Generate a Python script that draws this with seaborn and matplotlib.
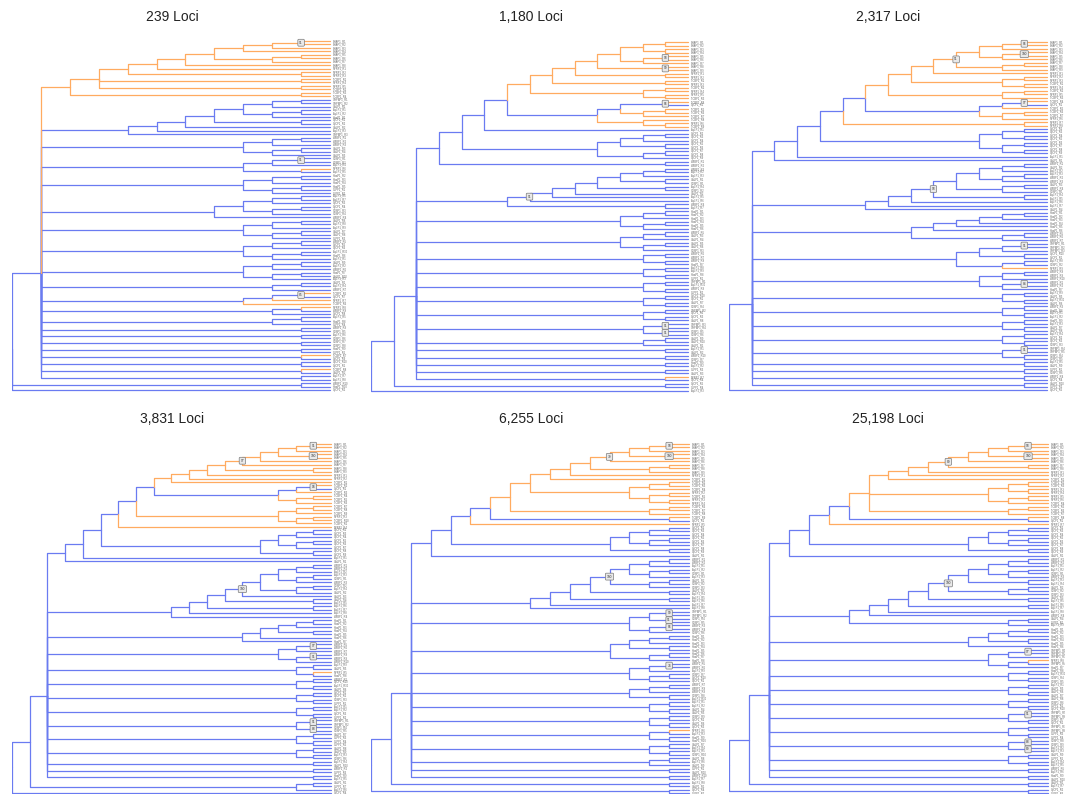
import re
import numpy as np
import pandas as pd
import matplotlib
matplotlib.use('Agg')
import matplotlib.pyplot as plt
import seaborn as sns

# ── Data: six trees in Newick-like notation ──
# leaf = population code, number after ')' = bootstrap value shown in a box
TITLES = ['239 Loci', '1,180 Loci', '2,317 Loci', '3,831 Loci', '6,255 Loci', '25,198 Loci']

POP_NAMES = {'B': 'BHAP1', 'N': 'NPRP1', 'T': 'TCBP1', 'C': 'CyCP1', 'A': 'AyLP1',
             'H': 'HwaP1', 'L': 'CLPP1', 'W': 'WBBP1', 'U': 'UALP1', 'S': 'SUSP1',
             'G': 'GHPBP1'}
ORANGE_POPS = ['B', 'N', 'T']

TREE_239 = (
    "(("
    "(((((((((B,B)91,B),B),((B,B),B)),B),N),(N,N)),(T,N),(N,T)),(T,T)),"
    "(((((((G,G),U),((A,A),H)),(C,C)),U),A),G),"
    "(((W,W),W),((U,U),U)),"
    "(((S,S)91,A),(N,A)),"
    "(((H,H),H),((H,L),L)),"
    "((((A,A),C),((C,S),S)),W),"
    "(((U,A),A),((U,U),L)),"
    "(((W,C),C),((A,H),A)),"
    "(((U,A),W),((H,U),A)),"
    "((U,A),W),"
    "(((T,C)85,N),T),"
    "((N,W),C),"
    "((A,H),L),"
    "(W,S),(A,S),(S,S),(H,L),(T,C),(C,C),(T,U),(A,A)"
    "),(W,H),C)"
)

TREE_1180 = (
    "((("
    "(((("
    "(((((((B,B),(B,B)),((B,B)98,B)),(B,B)99),(N,N)),(T,N)),((T,N),(N,T))),"
    "(((T,C)96,((T,T),T)),(T,(N,T)))"
    "),A),"
    "((((C,C),C),(C,C)),((C,C),C))"
    "),(W,W)),"
    "((((((((W,A),A),(U,S)),(A,S)),U),A),A)91,(W,A)),"
    "(((H,H),H),((H,H),H)),"
    "(((W,U),U),((U,U),S)),"
    "((W,W),(W,H)),"
    "((A,A),(H,L)),"
    "((G,A),(W,L)),"
    "((C,C),(U,S)),"
    "((G,C),(C,U)),"
    "((G,G)91,(S,S)91),"
    "((U,U),U),"
    "(A,U),(W,S),(H,A),(L,U),(N,C)"
    "),(C,L)),A)"
)

TREE_2317 = (
    "(("
    "((((("
    "(((((((B,B)96,B),((B,B)100,B)),((B,B),B))91,N),((N,N),(T,N))),((T,N),T)),"
    "(((T,C)97,T),((T,T),N))"
    "),(N,N)),"
    "(((C,C),(C,C)),((C,C),(C,C)))"
    "),A),U),"
    "((((((((W,U),A),((A,W),W)),((U,W),S)),(A,A))93,A),A),U),"
    "((((((H,H),H),H),H),H),((W,W),W)),"
    "((((G,G)91,G),(C,C)),((A,S),N)),"
    "(((W,W),W),((W,W)84,H)),"
    "((A,U),(A,U)),"
    "((W,H),(A,A)),"
    "((H,A),(U,U)),"
    "((A,C),(C,S)),"
    "((G,G)91,(S,S)),"
    "(A,U),(L,S),(W,C),(U,L)"
    "),C)"
)

TREE_3831 = (
    "((("
    "(((((("
    "(((((((((B,B)91,B),(B,B)100),B),B)97,(B,B)),N),N),T),"
    "(((T,C)94,T),((T,T),T))"
    "),"
    "(((T,T),T),((N,T),T))"
    "),N),"
    "((((C,C),C),((C,C),C)),(C,C))"
    "),A),U),"
    "(((((((((W,W),A),((A,S),W)),((S,A),U)),U)100,(U,A)),(A,A)),A),W),"
    "(((((H,H),H),(H,H)),H),H),"
    "(((W,W)97,W),((W,W)91,W)),"
    "((A,U),(N,H)),"
    "((W,C),(A,U)),"
    "((C,C),(S,L)),"
    "((A,A),(C,L)),"
    "((G,G)91,(S,S)88),"
    "((U,L),(L,L)),"
    "((U,U),(A,S)),"
    "(A,U),(W,L),(H,A)"
    "),((U,L),A)),C)"
)

TREE_6255 = (
    "((("
    "((((("
    "((((((((B,B)98,B),(B,B)100),B)79,((B,B),B)),N),T),(((T,T),T),((N,T),(N,N)))),"
    "((T,T),T)"
    "),(T,C)),N),"
    "((((C,C),C),((C,C),C)),(C,C))"
    "),U),"
    "((((((((W,W),A),((A,S),A)),((U,S),S))100,(U,A)),(A,A)),A),A),"
    "(((G,G)99,(S,S)91),((W,W)96,S)),"
    "((((H,H),H),(H,H)),((H,H),H)),"
    "(((W,W)74,A),((S,C),C)),"
    "(((W,W),W),(S,A)),"
    "((A,A),(U,U)),"
    "((S,C),(U,C)),"
    "((N,A),(H,H)),"
    "((U,A),(A,S)),"
    "((U,A),U),"
    "(L,U),(W,A)"
    "),(A,U)),(C,L))"
)

TREE_25198 = (
    "((("
    "((((("
    "((((((((B,B)98,B),(B,B)100),B),(B,B))89,N),N),T),"
    "(((T,T),(N,N)),((N,N),T)),"
    "((T,T),T)"
    "),(T,C)),N),"
    "((((C,C),C),((C,C),C)),(C,C))"
    "),U),"
    "((((((((((W,W),A),((A,S),W)),(A,A)),((U,S),S))100,(U,A)),(A,A)),A),W),((U,L),A)),"
    "((((H,H),H),(H,H)),H),"
    "(((G,G)97,G),((N,G),H)),"
    "((H,A),(S,S)),"
    "((A,U),(U,U)),"
    "((U,S),(L,C)),"
    "((G,G)91,(S,C)),"
    "((G,G),(L,L)),"
    "((S,S)88,(A,A)89),"
    "((U,L),(A,A)),"
    "(W,A),(H,U)"
    "),(U,A)),(C,L))"
)

TREES = [TREE_239, TREE_1180, TREE_2317, TREE_3831, TREE_6255, TREE_25198]

# ── Layout (pixels in the 1065x794 figure) ──
FIG_W, FIG_H = 1065, 794
ROOT_PX = [12, 371, 729, 12, 371, 729]
LEAF_PX = [330, 688, 1047, 331, 689, 1048]
TOP_PX = [41, 42, 42, 444, 444, 444]
BOT_PX = [390, 391, 390, 793, 793, 793]
TITLE_X = [172, 531, 888, 172, 531, 888]
TITLE_Y = [17, 17, 17, 419, 419, 419]

COLORS = {'blue': '#6A7BF1', 'orange': '#FFAB60'}


def parse_tree(s):
    pos = 0

    def read():
        nonlocal pos
        if s[pos] == '(':
            pos += 1
            kids = [read()]
            while s[pos] == ',':
                pos += 1
                kids.append(read())
            assert s[pos] == ')', s[pos:pos + 20]
            pos += 1
            lab = re.match(r'\d*', s[pos:]).group()
            pos += len(lab)
            return {'kids': kids, 'boot': lab}
        pop = s[pos]
        pos += 1
        return {'pop': pop}

    tree = read()
    assert pos == len(s)
    return tree


def lay_out(tree):
    leaves, counts = [], {}

    def visit(nd):
        if 'pop' in nd:
            k = counts.get(nd['pop'], 0)
            counts[nd['pop']] = k + 1
            nd['name'] = f"{POP_NAMES[nd['pop']]}_R{k % 10 + 1}"
            nd['y'] = len(leaves)
            nd['h'] = 0
            nd['orange'] = nd['pop'] in ORANGE_POPS
            leaves.append(nd)
            return
        for c in nd['kids']:
            visit(c)
        nd['h'] = 1 + max(c['h'] for c in nd['kids'])
        nd['y'] = float(np.mean([c['y'] for c in nd['kids']]))
        nd['orange'] = all(c['orange'] for c in nd['kids'])

    visit(tree)
    H = tree['h']
    rows, boots = [], []

    def edges(nd):
        if 'kids' not in nd:
            return
        x0 = H - nd['h']
        if nd['boot']:
            boots.append((x0, nd['y'], nd['boot']))
        for c in nd['kids']:
            eid = len(rows)
            clr = 'orange' if c['orange'] else 'blue'
            rows.append((eid, x0, nd['y'], clr))
            rows.append((eid, x0, c['y'], clr))
            rows.append((eid, H - c['h'], c['y'], clr))
            edges(c)

    edges(tree)
    df = pd.DataFrame(rows, columns=['edge', 'x', 'y', 'clr'])
    return df, leaves, boots, H


sns.set_style('white')
plt.rcParams['font.family'] = ['Liberation Sans', 'DejaVu Sans']

fig = plt.figure(figsize=(FIG_W / 100, FIG_H / 100), dpi=100)

for i, s in enumerate(TREES):
    tree = parse_tree(s)
    df, leaves, boots, H = lay_out(tree)
    n = len(leaves)
    step = (BOT_PX[i] - TOP_PX[i]) / (n - 1)
    left, right = ROOT_PX[i], LEAF_PX[i] + 22
    top, bot = TOP_PX[i] - step / 2, BOT_PX[i] + step / 2
    ax = fig.add_axes([left / FIG_W, 1 - bot / FIG_H,
                       (right - left) / FIG_W, (bot - top) / FIG_H])
    sns.lineplot(data=df, x='x', y='y', units='edge', estimator=None, hue='clr',
                 hue_order=['blue', 'orange'], palette=COLORS, sort=False,
                 legend=False, lw=0.9, ax=ax)
    unit = H / (LEAF_PX[i] - ROOT_PX[i])
    ax.set_xlim(0, (right - left) * unit)
    ax.set_ylim(n - 0.5, -0.5)
    ax.axis('off')

    for lf in leaves:
        ax.text(H + 3 * unit, lf['y'], lf['name'], fontsize=1.9, va='center',
                ha='left', color='#666666')
    for bx, by, val in boots:
        ax.text(bx, by, val, fontsize=2.3, ha='center', va='center', color='#333333',
                bbox=dict(boxstyle='round,pad=0.45,rounding_size=0.3',
                          fc='#e9e9e9', ec='#7a7a7a', lw=0.5))

    fig.text(TITLE_X[i] / FIG_W, 1 - TITLE_Y[i] / FIG_H, TITLES[i],
             ha='center', va='center', fontsize=10, color='#222222')

fig.savefig('out.png', dpi=100)
